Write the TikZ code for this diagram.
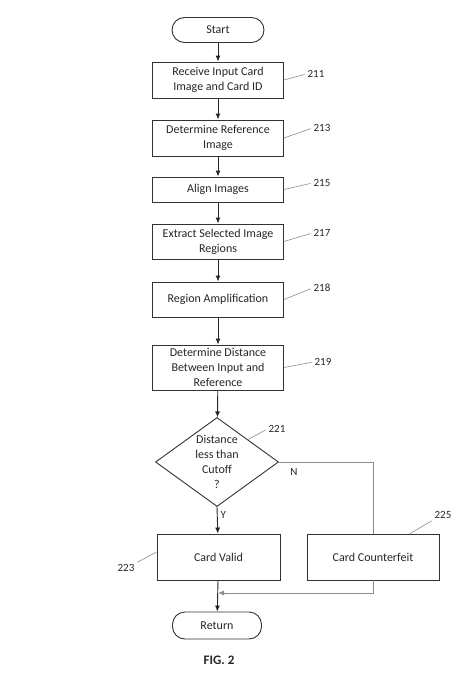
\documentclass[tikz,border=0pt]{standalone}
\usepackage{fontspec}
\setmainfont{Carlito}
\usetikzlibrary{arrows.meta, shapes.geometric, calc}

\tikzset{
  base/.style={draw=black!80, line width=0.9pt, font=\fontsize{12}{15}\selectfont, text=black!85, align=center, inner sep=2pt},
  procbox/.style={base, rectangle, minimum width=131pt},
  termbox/.style={base, rectangle, rounded corners=12.5pt, minimum width=92pt, minimum height=25pt},
  decision/.style={draw=black!80, line width=0.9pt, diamond, minimum width=123pt, minimum height=89pt, inner sep=0pt},
  num/.style={font=\fontsize{11}{13}\selectfont, text=black!85, inner sep=1pt},
  lead/.style={draw=black!45, line width=0.6pt, shorten >=2pt},
  flow/.style={draw=black!85, line width=0.9pt, -{Latex[length=6pt,width=5pt]}},
  side/.style={draw=black!45, line width=0.8pt},
}

\begin{document}
\begin{tikzpicture}[x=1pt, y=-1pt]
  \useasboundingbox (0,0) rectangle (468,680);

  % main column
  \node[termbox] (start) at (218,30) {Start};
  \node[procbox, minimum height=36pt] (b211) at (218,80) {Receive Input Card\\Image and Card ID};
  \node[procbox, minimum height=36pt] (b213) at (218,138) {Determine Reference\\Image};
  \node[procbox, minimum height=25pt] (b215) at (218,189.5) {Align Images};
  \node[procbox, minimum height=35pt] (b217) at (218,241.5) {Extract Selected Image\\Regions};
  \node[procbox, minimum height=35pt] (b218) at (218,299.5) {Region Amplification};
  \node[procbox, minimum height=45pt] (b219) at (218,367.5) {Determine Distance\\Between Input and\\Reference};
  \node[decision] (d221) at (217,462) {};
  \node[base, draw=none] (q221) at (d221) {Distance\\less than\\Cutoff\\?};
  \node[base, minimum width=123pt, minimum height=46pt] (v223) at (218.5,557) {Card Valid};
  \node[base, minimum width=132pt, minimum height=46pt] (f225) at (373,557) {Card Counterfeit};
  \node[termbox, minimum width=89pt, minimum height=27pt] (ret) at (217,625.5) {Return};
  \coordinate (join) at (218,593);

  % reference numerals
  \node[num] (l211) at (316,74) {211};
  \node[num] (l213) at (322,128) {213};
  \node[num] (l215) at (322,183) {215};
  \node[num] (l217) at (322,233) {217};
  \node[num] (l218) at (322,288) {218};
  \node[num] (l219) at (323,362) {219};
  \node[num] (l221) at (277,429) {221};
  \node[num] (l223) at (126,568) {223};
  \node[num] (l225) at (443,515) {225};

  \draw[lead] (b211.east) -- (l211.west);
  \draw[lead] (b213.east) -- (l213.west);
  \draw[lead] (b215.east) -- (l215.west);
  \draw[lead] (b217.east) -- (l217.west);
  \draw[lead] (b218.east) -- (l218.west);
  \draw[lead] (b219.east) -- (l219.west);
  \draw[lead] (d221.north east) -- (l221.west);
  \draw[lead] ([yshift=5pt]v223.west) -- (l223.north east);
  \draw[lead] ([xshift=8pt]f225.north) ++(29,0) -- (l225.south west);

  % flow
  \draw[flow] (start) -- (b211);
  \draw[flow] (b211) -- (b213);
  \draw[flow] (b213) -- (b215);
  \draw[flow] (b215) -- (b217);
  \draw[flow] (b217) -- (b218);
  \draw[flow] (b218) -- (b219);
  \draw[flow] (b219) -- (d221);
  \draw[flow] (d221.south) -- node[num, right=2pt, pos=0.3] {Y} (v223);
  \draw[side] (d221.east) -| node[num, pos=0.08, below=5pt] {N} (f225.north);
  \draw[flow] (v223) -- (ret);
  \draw[side, -{Latex[length=6pt,width=5pt]}] (f225.south) |- (join);

  \node[font=\fontsize{13}{15}\selectfont\bfseries, text=black!85] (fig) at (219,660) {FIG. 2};
\end{tikzpicture}
\end{document}
